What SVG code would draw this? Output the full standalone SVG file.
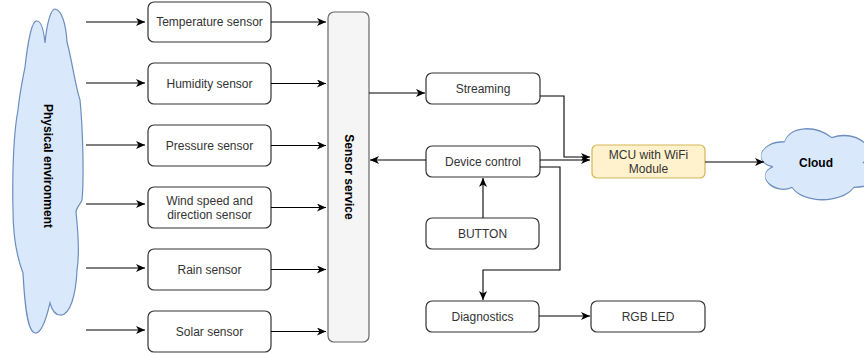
<svg xmlns="http://www.w3.org/2000/svg" width="864" height="353" viewBox="0 0 864 353">
<defs>
<marker id="arr" markerUnits="userSpaceOnUse" markerWidth="10" markerHeight="8" refX="9" refY="4" orient="auto">
<path d="M0,0 L9,4 L0,8 L2.5,4 Z" fill="#000"/>
</marker>
<path id="cloudshape" d="M -81,-18 C -145.8,-18 -162,0 -110.16,3.6 C -162,11.52 -103.68,28.8 -61.56,21.6 C -32.4,36 64.8,36 97.2,21.6 C 162,21.6 162,7.2 121.5,0 C 162,-14.4 97.2,-28.8 40.5,-21.6 C 0,-32.4 -64.8,-32.4 -81,-18 Z"/>
</defs>
<style>
.box{fill:#fff;stroke:#333;stroke-width:1.2}
.t{font-family:"Liberation Sans",Arial,sans-serif;font-size:12px;fill:#333;text-anchor:middle}
.b{font-weight:bold;fill:#000}
.c{fill:none;stroke:#000;stroke-width:1.1}
.cloud{fill:#dae8fc;stroke:#6c8ebf;stroke-width:1.2}
</style>
<rect width="864" height="353" fill="#fff"/>

<g id="physical-environment">
<path class="cloud" d="M 45,43 C 47,22 51,9 55,9 C 62,10 66,25 67,42 C 72,60 75,85 80,100 C 83,130 84,180 82,200 C 80,205 76,208 76,212 C 79,240 79,258 77,270 C 76,295 70,316 60,315 C 55,315 52,310 50,303 C 46,320 41,334 35,333 C 28,332 25,310 23,273 C 18,260 13,240 13,210 C 12,170 14,130 18,110 C 20,90 23,78 25,67 C 28,40 32,20 37,21 C 42,21 44,33 45,43 Z"/>
<text class="t b" transform="translate(48,166) rotate(90)" dy="4">Physical environment</text>
</g>

<g id="temperature-sensor"><rect class="box" x="148" y="2" width="123" height="40" rx="6"/><text class="t" x="209.5" y="26">Temperature sensor</text></g>
<g id="humidity-sensor"><rect class="box" x="148" y="63" width="123" height="41" rx="6"/><text class="t" x="209.5" y="88">Humidity sensor</text></g>
<g id="pressure-sensor"><rect class="box" x="148" y="125" width="123" height="41" rx="6"/><text class="t" x="209.5" y="150">Pressure sensor</text></g>
<g id="wind-sensor"><rect class="box" x="148" y="187" width="123" height="41" rx="6"/><text class="t" x="209.5" y="205">Wind speed and</text><text class="t" x="209.5" y="219">direction sensor</text></g>
<g id="rain-sensor"><rect class="box" x="148" y="249" width="123" height="41" rx="6"/><text class="t" x="209.5" y="274">Rain sensor</text></g>
<g id="solar-sensor"><rect class="box" x="148" y="311" width="123" height="41" rx="6"/><text class="t" x="209.5" y="336">Solar sensor</text></g>

<g id="sensor-service"><rect x="328" y="12" width="41" height="330" rx="6" fill="#f5f5f5" stroke="#666" stroke-width="1.2"/><text class="t b" transform="translate(348.5,177) rotate(90)" dy="4">Sensor service</text></g>

<g id="streaming"><rect class="box" x="426" y="73" width="114" height="31" rx="6"/><text class="t" x="483" y="93">Streaming</text></g>
<g id="device-control"><rect class="box" x="426" y="146" width="114" height="31" rx="6"/><text class="t" x="483" y="166">Device control</text></g>
<g id="button"><rect class="box" x="426" y="218" width="113" height="31" rx="6"/><text class="t" x="482.5" y="238">BUTTON</text></g>
<g id="diagnostics"><rect class="box" x="426" y="301" width="113" height="31" rx="6"/><text class="t" x="482.5" y="321">Diagnostics</text></g>
<g id="rgb-led"><rect class="box" x="591" y="301" width="114" height="31" rx="6"/><text class="t" x="648" y="321">RGB LED</text></g>
<g id="mcu"><rect x="592" y="145" width="113" height="33" rx="5" fill="#fff2cc" stroke="#d6b656" stroke-width="1.2"/><text class="t" x="648.5" y="159">MCU with WiFi</text><text class="t" x="648.5" y="173">Module</text></g>
<g id="cloud">
<use href="#cloudshape" class="cloud" transform="translate(816,162.5) scale(0.39,1.15)"/>
<text class="t b" x="816" y="167">Cloud</text>
</g>

<g id="connectors">
<line class="c" x1="86" y1="22" x2="145" y2="22" marker-end="url(#arr)"/>
<line class="c" x1="86" y1="83" x2="145" y2="83" marker-end="url(#arr)"/>
<line class="c" x1="86" y1="145" x2="145" y2="145" marker-end="url(#arr)"/>
<line class="c" x1="86" y1="204" x2="145" y2="204" marker-end="url(#arr)"/>
<line class="c" x1="86" y1="268" x2="145" y2="268" marker-end="url(#arr)"/>
<line class="c" x1="86" y1="330" x2="145" y2="330" marker-end="url(#arr)"/>
<line class="c" x1="271" y1="22" x2="326" y2="22" marker-end="url(#arr)"/>
<line class="c" x1="271" y1="83.5" x2="326" y2="83.5" marker-end="url(#arr)"/>
<line class="c" x1="271" y1="145.5" x2="326" y2="145.5" marker-end="url(#arr)"/>
<line class="c" x1="271" y1="207.5" x2="326" y2="207.5" marker-end="url(#arr)"/>
<line class="c" x1="271" y1="269.5" x2="326" y2="269.5" marker-end="url(#arr)"/>
<line class="c" x1="271" y1="331.5" x2="326" y2="331.5" marker-end="url(#arr)"/>
<line class="c" x1="369" y1="93" x2="425" y2="93" marker-end="url(#arr)"/>
<line class="c" x1="426" y1="160" x2="370" y2="160" marker-end="url(#arr)"/>
<polyline class="c" points="540,96 564,96 564,157 590,157" marker-end="url(#arr)"/>
<line class="c" x1="540" y1="160" x2="590" y2="160" marker-end="url(#arr)"/>
<polyline class="c" points="540,167 560,167 560,270 483,270 483,300" marker-end="url(#arr)"/>
<line class="c" x1="483" y1="218" x2="483" y2="178" marker-end="url(#arr)"/>
<line class="c" x1="539" y1="316" x2="590" y2="316" marker-end="url(#arr)"/>
<line class="c" x1="705" y1="162" x2="764" y2="162" marker-end="url(#arr)"/>
</g>
</svg>
